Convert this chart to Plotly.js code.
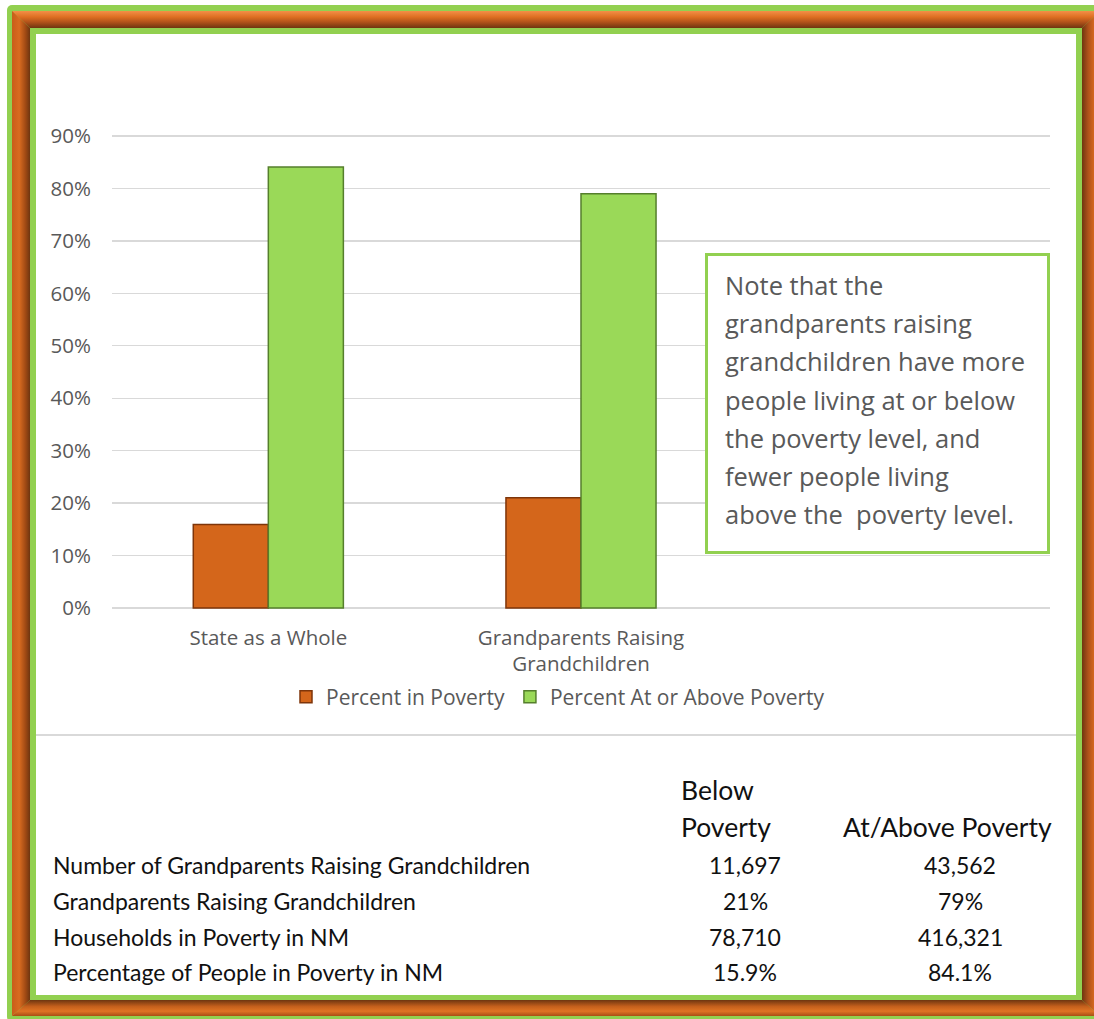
<!DOCTYPE html>
<html>
<head>
<meta charset="utf-8">
<script src="https://cdn.plot.ly/plotly-3.0.1.min.js"></script>
<style>
html,body{margin:0;padding:0;width:1094px;height:1019px;overflow:hidden;background:#ffffff;}
#g1{position:absolute;left:7px;top:5px;width:1099px;height:1017px;background:#92D050;border-radius:5px;}
.side{position:absolute;}
#top{left:12px;top:11px;width:1088px;height:17px;clip-path:polygon(0 0,1088px 0,1070px 17px,18px 17px);
  background:linear-gradient(to bottom,#F39047 0%,#DE6F22 35%,#B2531A 65%,#6E3510 100%);}
#bottom{left:12px;top:1000px;width:1088px;height:16px;clip-path:polygon(18px 0,1070px 0,1088px 16px,0 16px);
  background:linear-gradient(to bottom,#6E3510 0%,#C45F1C 40%,#E07424 70%,#A84E15 100%);}
#left{left:12px;top:11px;width:18px;height:1005px;clip-path:polygon(0 0,18px 17px,18px 989px,0 1005px);
  background:linear-gradient(to right,#C85E1A 0%,#D96C20 40%,#A04A14 75%,#6E3510 100%);}
#right{left:1082px;top:11px;width:18px;height:1005px;clip-path:polygon(0 17px,18px 0,18px 1005px,0 989px);
  background:linear-gradient(to right,#6E3510 0%,#B0521A 35%,#D86A20 70%,#C05A18 100%);}
#w{position:absolute;left:36px;top:34px;width:1040px;height:961px;background:#ffffff;}
#chart{position:absolute;left:0;top:0;width:1094px;height:1019px;}
</style>
</head>
<body>
<div id="g1"></div>
<div class="side" id="top"></div>
<div class="side" id="bottom"></div>
<div class="side" id="left"></div>
<div class="side" id="right"></div>
<div id="w"></div>
<div id="chart"></div>
<script>
// ---- data ----
var categories = ['State as a Whole', 'Grandparents Raising<br>Grandchildren'];
var seriesNames = ['Percent in Poverty', 'Percent At or Above Poverty'];
var pctInPoverty = [15.9, 21];
var pctAtOrAbove = [84.1, 79];
var yTicks = [0, 10, 20, 30, 40, 50, 60, 70, 80, 90];
var yTickLabels = ['0%', '10%', '20%', '30%', '40%', '50%', '60%', '70%', '80%', '90%'];

var noteLines = [
  'Note that the',
  'grandparents raising',
  'grandchildren have more',
  'people living at or below',
  'the poverty level, and',
  'fewer people living',
  'above the&nbsp; poverty level.'
];

var tableRowLabels = [
  'Number of Grandparents Raising Grandchildren',
  'Grandparents Raising Grandchildren',
  'Households in Poverty in NM',
  'Percentage of People in Poverty in NM'
];
var headerBelow = ['Below', 'Poverty'];
var headerAbove = ['At/Above Poverty'];
var colBelowPoverty = ['11,697', '21%', '78,710', '15.9%'];
var colAtAbovePoverty = ['43,562', '79%', '416,321', '84.1%'];

// ---- layout helpers (pixel -> paper) ----
var L = 112, R = 1050, T = 134, B = 610;
function px(x){ return (x - L) / (R - L); }
function py(y){ return (B - y) / (B - T); }

var orange = '#D4661B', orangeEdge = '#7E350A';
var green = '#9AD958', greenEdge = '#557F2C';
var gray = '#595959';
var ink = '#111111';
var chartFont = 'Open Sans, Noto Sans, sans-serif';
var tableFont = 'Lato, Noto Sans, sans-serif';

var traces = [
  {type:'bar', name:seriesNames[0], x:categories, y:pctInPoverty,
   marker:{color:orange, line:{color:orangeEdge, width:1.5}}},
  {type:'bar', name:seriesNames[1], x:categories, y:pctAtOrAbove,
   marker:{color:green, line:{color:greenEdge, width:1.5}}}
];

var annotations = [];
noteLines.forEach(function(t, i){
  annotations.push({xref:'paper', yref:'paper', x:px(723), y:py(285 + i*38.2),
    xanchor:'left', yanchor:'middle', showarrow:false, text:t,
    font:{family:chartFont, size:25.5, color:gray}});
});
var rowY = [865, 901, 937, 972];
tableRowLabels.forEach(function(t, i){
  annotations.push({xref:'paper', yref:'paper', x:px(51), y:py(rowY[i]),
    xanchor:'left', yanchor:'middle', showarrow:false, text:t,
    font:{family:tableFont, size:23, color:ink}});
  annotations.push({xref:'paper', yref:'paper', x:px(745), y:py(rowY[i]),
    xanchor:'center', yanchor:'middle', showarrow:false, text:colBelowPoverty[i],
    font:{family:tableFont, size:23, color:ink}});
  annotations.push({xref:'paper', yref:'paper', x:px(960), y:py(rowY[i]),
    xanchor:'center', yanchor:'middle', showarrow:false, text:colAtAbovePoverty[i],
    font:{family:tableFont, size:23, color:ink}});
});
headerBelow.forEach(function(t, i){
  annotations.push({xref:'paper', yref:'paper', x:px(679), y:py(790 + i*37),
    xanchor:'left', yanchor:'middle', showarrow:false, text:t,
    font:{family:tableFont, size:26.5, color:ink}});
});
headerAbove.forEach(function(t){
  annotations.push({xref:'paper', yref:'paper', x:px(841), y:py(827),
    xanchor:'left', yanchor:'middle', showarrow:false, text:t,
    font:{family:tableFont, size:26.5, color:ink}});
});

var shapes = [
  {type:'rect', xref:'paper', yref:'paper', x0:px(706.5), x1:px(1048.5), y0:py(254.5), y1:py(552.5),
   line:{color:'#92D050', width:3}, fillcolor:'#ffffff', layer:'above'},
  {type:'line', xref:'paper', yref:'paper', x0:px(36), x1:px(1076), y0:py(735), y1:py(735),
   line:{color:'#D9D9D9', width:2}}
];

var layout = {
  width:1094, height:1019,
  margin:{l:L, r:1094-R, t:T, b:1019-B, pad:0},
  paper_bgcolor:'rgba(0,0,0,0)', plot_bgcolor:'rgba(0,0,0,0)',
  font:{family:chartFont, color:gray, size:21},
  barmode:'group', bargap:0.52, bargroupgap:0,
  xaxis:{type:'category', range:[-0.5, 2.5], showgrid:false, zeroline:false,
    showline:false, ticks:'', tickfont:{size:20.5, color:gray}, ticklabelstandoff:13},
  yaxis:{range:[-0.4, 90.4], tickmode:'array', tickvals:yTicks, ticktext:yTickLabels,
    showgrid:true, gridcolor:'#D9D9D9', gridwidth:1.3, zeroline:false, showline:false, ticks:'',
    tickfont:{size:20.5, color:gray}, ticklabelstandoff:20},
  showlegend:true,
  legend:{orientation:'h', x:px(558), xanchor:'center', y:py(697), yanchor:'middle',
    font:{size:21, color:gray}, bgcolor:'rgba(0,0,0,0)', traceorder:'normal'},
  annotations:annotations,
  shapes:shapes
};

Plotly.newPlot('chart', traces, layout, {displayModeBar:false, staticPlot:true});
</script>
</body>
</html>
